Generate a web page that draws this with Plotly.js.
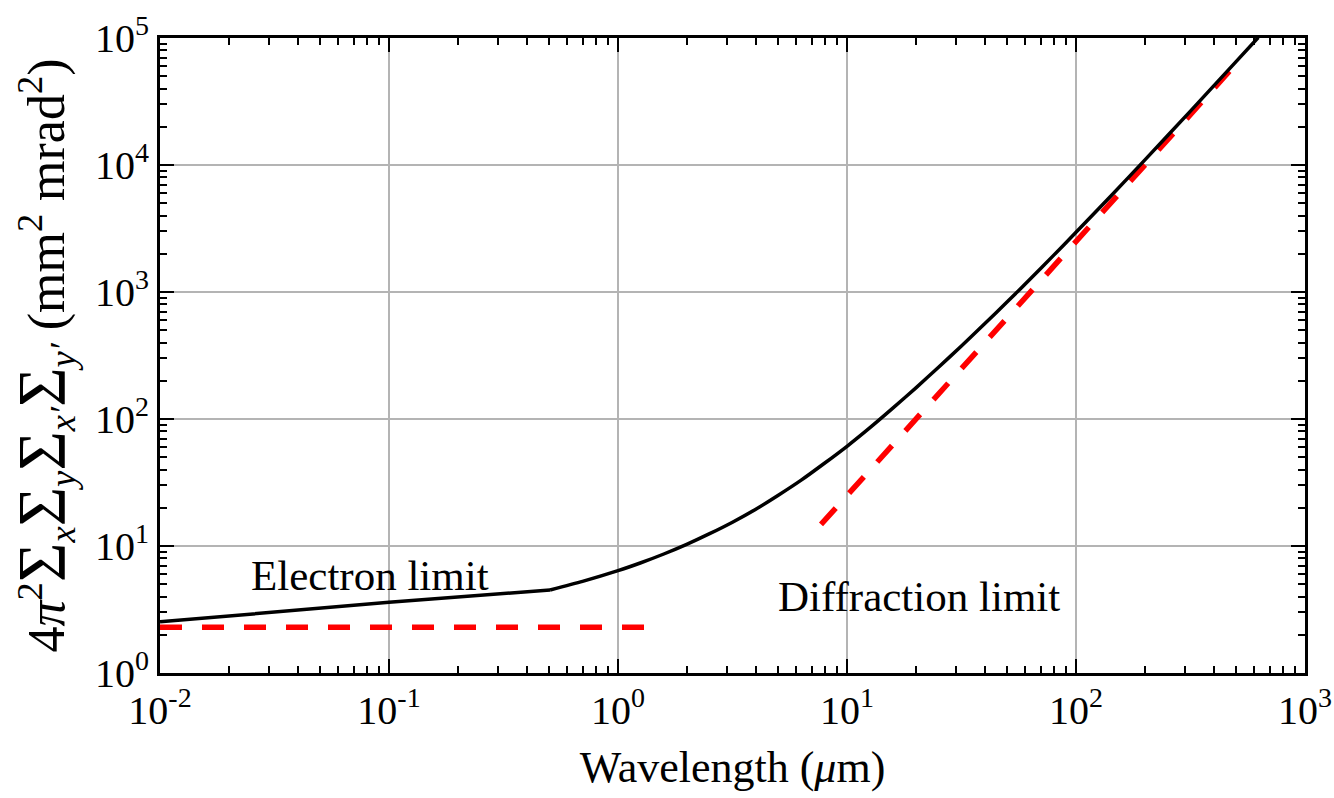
<!DOCTYPE html>
<html>
<head>
<meta charset="utf-8">
<script src="https://cdn.plot.ly/plotly-3.0.1.min.js"></script>
<style>
  html, body { margin: 0; padding: 0; background: #fff; }
  #chart { width: 1334px; height: 798px; }
</style>
</head>
<body>
<div id="chart"></div>
<script>
// Black curve, electron-dominated part (straight on log-log up to the kink)
const lowWavelength = [0.01, 0.1, 0.505];
const lowVolume     = [2.53, 3.6, 4.5];

// Black curve, from the kink upwards (smoothed by eye)
const highWavelength = [0.505, 0.7, 1.0, 1.259, 1.585, 1.995, 2.512, 3.162, 3.981, 5.012, 6.31, 7.943, 10,
                        12.6, 15.85, 20, 25.1, 31.6, 39.8, 50.1, 63.1, 79.4, 100, 141, 200, 316, 500, 625];
const highVolume     = [4.5, 5.26, 6.39, 7.38, 8.65, 10.3, 12.5, 15.4, 19.4, 25.1, 33.0, 44.6, 61,
                        85.5, 121.8, 176, 255.5, 376, 559, 837, 1266, 1925, 2950, 5630, 10970, 26560, 65160, 101000];

// Red dashed: electron limit (flat)
const electronWavelength = [0.01, 1.38];
const electronVolume     = [2.29, 2.29];

// Red dashed: diffraction limit
const diffractionWavelength = [7.7, 500];
const diffractionVolume     = [14.8, 62500];

// Tick labels
const xTickVals = [0.01, 0.1, 1, 10, 100, 1000];
const xTickText = ['10<sup>-2</sup>', '10<sup>-1</sup>', '10<sup>0</sup>', '10<sup>1</sup>', '10<sup>2</sup>', '10<sup>3</sup>'];
const yTickVals = [1, 10, 100, 1000, 10000, 100000];
const yTickText = ['10<sup>0</sup>', '10<sup>1</sup>', '10<sup>2</sup>', '10<sup>3</sup>', '10<sup>4</sup>', '10<sup>5</sup>'];

const FONT = 'Liberation Serif, Times New Roman, serif';
const RED_LINE = { color: '#ff0000', width: 5.5, dash: '22px,20px' };
const BLACK_LINE = { color: '#000000', width: 3.5 };

const traces = [
  { x: electronWavelength, y: electronVolume, type: 'scatter', mode: 'lines', line: RED_LINE, hoverinfo: 'none' },
  { x: diffractionWavelength, y: diffractionVolume, type: 'scatter', mode: 'lines', line: RED_LINE, hoverinfo: 'none' },
  { x: lowWavelength, y: lowVolume, type: 'scatter', mode: 'lines', line: BLACK_LINE, hoverinfo: 'none' },
  { x: highWavelength, y: highVolume, type: 'scatter', mode: 'lines',
    line: Object.assign({}, BLACK_LINE, { shape: 'spline', smoothing: 0.6 }), hoverinfo: 'none' }
];

const axisCommon = {
  type: 'log',
  showline: true, linecolor: '#000', linewidth: 3, mirror: 'allticks',
  ticks: 'inside', ticklen: 14, tickwidth: 2, tickcolor: '#000',
  showgrid: true, gridcolor: '#b4b4b4', gridwidth: 1.2,
  zeroline: false,
  tickfont: { family: FONT, size: 40, color: '#000' },
  minor: { ticks: 'inside', ticklen: 7, tickwidth: 2, tickcolor: '#000', dtick: 'D1', showgrid: false },
  tickmode: 'array'
};

const S = (t) => '<span style="font-size:68px">' + t + '</span>';
const yTitle = '4<i>π</i><sup>2</sup>' + S('Σ') + '<sub><i>x</i></sub>' + S('Σ') + '<sub><i>y</i></sub>' +
               S('Σ') + '<sub><i>x′</i></sub>' + S('Σ') + '<sub><i>y′</i></sub> (mm<sup>2</sup> mrad<sup>2</sup>)';

const layout = {
  width: 1334, height: 798,
  margin: { l: 160, r: 29, t: 38, b: 125 },
  paper_bgcolor: '#fff', plot_bgcolor: '#fff',
  showlegend: false,
  font: { family: FONT, color: '#000' },
  xaxis: Object.assign({}, axisCommon, {
    range: [-2, 3],
    tickvals: xTickVals, ticktext: xTickText,
    title: { text: 'Wavelength (<i>μ</i>m)', font: { family: FONT, size: 44, color: '#000' }, standoff: 20 }
  }),
  yaxis: Object.assign({}, axisCommon, {
    range: [0, 5],
    tickvals: yTickVals, ticktext: yTickText,
    title: { text: yTitle, font: { family: FONT, size: 52, color: '#000' }, standoff: 14 }
  }),
  annotations: [
    { text: 'Electron limit', x: Math.log10(0.0826), y: Math.log10(5.9), xref: 'x', yref: 'y',
      showarrow: false, xanchor: 'center', yanchor: 'middle', font: { family: FONT, size: 43, color: '#000' } },
    { text: 'Diffraction limit', x: Math.log10(20.6), y: Math.log10(3.97), xref: 'x', yref: 'y',
      showarrow: false, xanchor: 'center', yanchor: 'middle', font: { family: FONT, size: 43, color: '#000' } }
  ]
};

Plotly.newPlot('chart', traces, layout, { displayModeBar: false, staticPlot: true });
</script>
</body>
</html>
